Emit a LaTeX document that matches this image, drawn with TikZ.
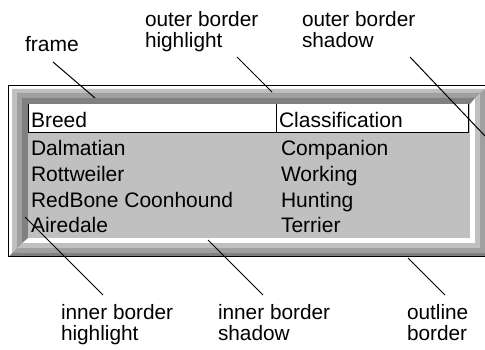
\documentclass[tikz,border=0pt]{standalone}
\usepackage{fontspec}
\setmainfont{Liberation Sans}
\definecolor{bevwhite}{HTML}{FFFFFF}
\definecolor{bevlight}{HTML}{C0C0C0}
\definecolor{bevmid}{HTML}{A0A0A0}
\definecolor{bevdark}{HTML}{808080}

% One mitred band of a 3-D border: #1 top/left colour, #2 bottom/right colour,
% #3,#4 outer corners, #5,#6 inner corners.
\newcommand\bevelband[6]{%
  \coordinate (bo1) at (#3); \coordinate (bo2) at (#4);
  \coordinate (bi1) at (#5); \coordinate (bi2) at (#6);
  \fill[#2] (bo1) rectangle (bo2);
  \fill[#1] (bo1 |- bo2) -- (bo1) -- (bo2 |- bo1) -- (bi2 |- bi1)
            -- (bi1) -- (bi1 |- bi2) -- cycle;
}

\begin{document}
\begin{tikzpicture}[x=1pt,y=-1pt,
  every node/.style={inner sep=0pt, outer sep=0pt},
  txt/.style={font=\fontsize{21}{21}\selectfont, anchor=base west},
  lbl/.style={font=\fontsize{20.8}{21.5}\selectfont, anchor=north west, align=left},
  leader/.style={draw=black, line width=1pt}]
  \useasboundingbox (0,0) rectangle (485,350);

  \begin{scope}
    \clip (0,0) rectangle (485,350);
    % border bands, outside in
    \bevelband{bevwhite}{bevdark}{9,86}{488,256}{12,89}{485,253}
    \bevelband{bevlight}{bevmid}{12,89}{485,253}{17,93}{480,248}
    \bevelband{bevmid}{bevlight}{17,93}{480,248}{22,98}{475,243}
    \bevelband{bevdark}{bevwhite}{22,98}{475,243}{28,104}{470,238}
    % client area
    \fill[bevlight] (28,104) rectangle (470,238);
    % outline border
    \draw[black, line width=1.2pt] (8.5,85.5) rectangle (489.5,256.6);

    % header row
    \fill[white] (28,104) rectangle (469,133);
    \draw[black, line width=1pt] (28.5,104) -- (28.5,132.5) -- (468.5,132.5) -- (468.5,104);
    \draw[black, line width=1pt] (276.5,104) -- (276.5,132.5);
  \end{scope}

  % table text
  \node[txt] (hbreed) at (31,128) {Breed};
  \node[txt] (hclass) at (279,128) {Classification};
  \node[txt] (b1) at (31,156) {Dalmatian};
  \node[txt] (c1) at (281,156) {Companion};
  \node[txt] (b2) at (31,181.7) {Rottweiler};
  \node[txt] (c2) at (281,181.7) {Working};
  \node[txt] (b3) at (31,207.4) {RedBone Coonhound};
  \node[txt] (c3) at (281,207.4) {Hunting};
  \node[txt] (b4) at (31,233) {Airedale};
  \node[txt] (c4) at (281,233) {Terrier};

  % callout labels
  \node[txt] (lframe) at (25,52) {frame};
  \node[lbl] (lohl) at (145,11) {outer border\\highlight};
  \node[lbl] (losh) at (302,11) {outer border\\shadow};
  \node[lbl] (lihl) at (61,304) {inner border\\highlight};
  \node[lbl] (lish) at (218,304) {inner border\\shadow};
  \node[lbl] (lout) at (407,304) {outline\\border};

  % leader line end points
  \coordinate (fa) at (53,62);   \coordinate (fb) at (95,98);
  \coordinate (oha) at (237,57); \coordinate (ohb) at (272,92);
  \coordinate (osa) at (410,57); \coordinate (osb) at (485,136);
  \coordinate (iha) at (103,295); \coordinate (ihb) at (25,217);
  \coordinate (isa) at (263,295); \coordinate (isb) at (208,240);
  \coordinate (ola) at (445,295); \coordinate (olb) at (408,258);

  \draw[leader] (fa) -- (fb);
  \draw[leader] (oha) -- (ohb);
  \draw[leader] (osa) -- (osb);
  \draw[leader] (iha) -- (ihb);
  \draw[leader] (isa) -- (isb);
  \draw[leader] (ola) -- (olb);
\end{tikzpicture}
\end{document}
